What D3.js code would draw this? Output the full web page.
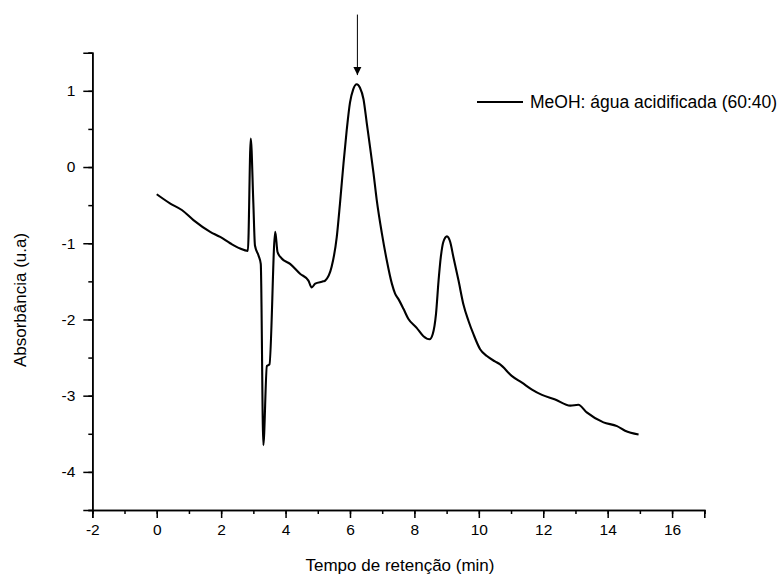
<!DOCTYPE html>
<html><head><meta charset="utf-8">
<script src="https://cdn.jsdelivr.net/npm/d3@7"></script>
<style>body{margin:0;background:#fff}text{font-family:"Liberation Sans",Arial,sans-serif}</style>
</head><body>
<svg id="c" width="782" height="576"></svg>
<script>
const timeMin = [0,0.41,0.78,1.14,1.66,1.97,2.28,2.59,2.83,2.92,3.0,3.05,3.16,3.23,3.31,3.42,3.50,3.68,3.75,3.88,4.14,4.45,4.71,4.81,4.92,5.17,5.23,5.43,5.59,5.69,5.80,5.90,6.0,6.1,6.21,6.31,6.42,6.52,6.62,6.73,6.83,6.99,7.14,7.30,7.40,7.50,7.66,7.81,8.07,8.28,8.47,8.57,8.67,8.75,8.82,8.90,9.01,9.11,9.21,9.37,9.52,9.68,9.83,10.04,10.25,10.5,10.66,11.02,11.34,11.65,11.96,12.37,12.84,13.09,13.35,13.87,14.29,14.54,14.96];
const absorb = [-0.357,-0.476,-0.564,-0.696,-0.85,-0.917,-1.0,-1.07,-1.10,0.374,-0.476,-1.03,-1.16,-1.27,-3.65,-2.61,-2.59,-0.85,-1.115,-1.2,-1.27,-1.40,-1.49,-1.58,-1.53,-1.50,-1.49,-1.31,-0.917,-0.476,0.053,0.49,0.845,1.02,1.087,1.04,0.89,0.58,0.27,-0.08,-0.43,-0.87,-1.22,-1.53,-1.66,-1.73,-1.86,-1.99,-2.11,-2.22,-2.26,-2.19,-1.93,-1.49,-1.18,-0.98,-0.91,-0.98,-1.18,-1.49,-1.80,-2.02,-2.19,-2.39,-2.48,-2.55,-2.59,-2.74,-2.83,-2.92,-2.99,-3.05,-3.13,-3.12,-3.22,-3.35,-3.40,-3.46,-3.51];
const xTicks = [-2,0,2,4,6,8,10,12,14,16];
const yTicks = [-4,-3,-2,-1,0,1];
const seriesName = "MeOH: água acidificada (60:40)";
const arrowX = 6.23, arrowFrom = 2.0, arrowTo = 1.206;

const svg = d3.select("#c");
const x = d3.scaleLinear().domain([-2,17]).range([92.3,704.3]);
const y = d3.scaleLinear().domain([-4.5,1.5]).range([510,52.7]);

const defs = svg.append("defs");
defs.append("marker").attr("id","ah").attr("viewBox","0 0 10 10").attr("refX",10).attr("refY",5)
  .attr("markerWidth",8).attr("markerHeight",10).attr("markerUnits","userSpaceOnUse").attr("orient","auto")
  .append("path").attr("d","M0,0L10,5L0,10Z").attr("fill","#000");

const gx = svg.append("g").attr("transform","translate(0,510)");
gx.call(d3.axisBottom(x).tickValues(d3.range(-2,18,1)).tickSize(4).tickFormat(""));
const gx2 = svg.append("g").attr("transform","translate(0,510)");
gx2.call(d3.axisBottom(x).tickValues(xTicks).tickSize(8).tickPadding(6).tickFormat(d=>d));
const gy = svg.append("g").attr("transform","translate(92.3,0)");
gy.call(d3.axisLeft(y).tickValues(d3.range(-4.5,1.51,0.5)).tickSize(4).tickFormat(""));
const gy2 = svg.append("g").attr("transform","translate(92.3,0)");
gy2.call(d3.axisLeft(y).tickValues(yTicks).tickSize(9).tickPadding(8).tickFormat(d=>d));
svg.selectAll(".domain").attr("stroke","#000").attr("stroke-width",1.6);
svg.selectAll(".tick line").attr("stroke","#000").attr("stroke-width",1.5);
svg.selectAll(".tick text").attr("font-size",15.5).attr("fill","#000").attr("font-family","Liberation Sans, Arial, sans-serif");

const data = timeMin.map((t,i)=>[t,absorb[i]]);
svg.append("path").datum(data).attr("fill","none").attr("stroke","#000").attr("stroke-width",2.1)
  .attr("stroke-linejoin","round")
  .attr("d", d3.line().x(d=>x(d[0])).y(d=>y(d[1])).curve(d3.curveMonotoneX));

svg.append("line").attr("x1",x(arrowX)).attr("x2",x(arrowX)).attr("y1",y(arrowFrom)).attr("y2",y(arrowTo))
  .attr("stroke","#000").attr("stroke-width",1).attr("marker-end","url(#ah)");

svg.append("line").attr("x1",477).attr("x2",523).attr("y1",102).attr("y2",102).attr("stroke","#000").attr("stroke-width",2.1);
svg.append("text").attr("x",530).attr("y",108).attr("font-size",17.5).text(seriesName);

svg.append("text").attr("x",400).attr("y",571).attr("text-anchor","middle").attr("font-size",17).text("Tempo de retenção (min)");
svg.append("text").attr("transform","translate(26,300) rotate(-90)").attr("text-anchor","middle").attr("font-size",17).text("Absorbância (u.a)");
</script>
</body></html>
